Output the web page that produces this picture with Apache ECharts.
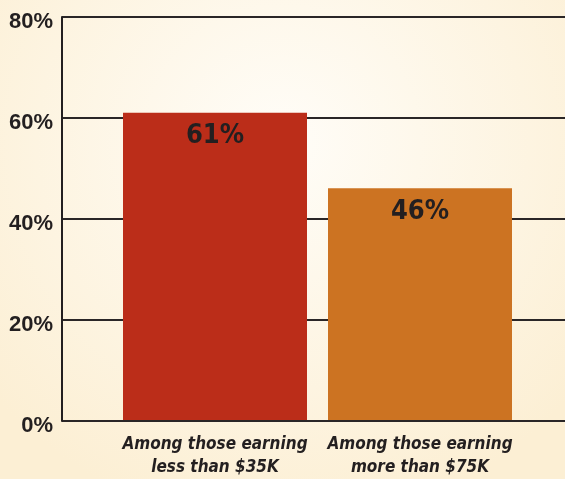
<!DOCTYPE html>
<html><head><meta charset="utf-8">
<script src="https://cdn.jsdelivr.net/npm/echarts@6/dist/echarts.min.js"></script>
<style>html,body{margin:0;padding:0;}#c{width:565px;height:479px;}</style>
</head><body><div id="c"></div>
<script>
const categories = ['Among those earning\nless than $35K', 'Among those earning\nmore than $75K'];
const values = [61, 46];
const barColors = ['#bb2d19', '#cc7322'];
const yTicks = [0, 20, 40, 60, 80];

const chart = echarts.init(document.getElementById('c'));
const cond = '"DejaVu Sans Condensed", "Liberation Sans Narrow", "Liberation Sans", Arial, sans-serif';
chart.setOption({
  backgroundColor: {
    type: 'radial', x: 0.5, y: 0.3, r: 0.8,
    colorStops: [{offset: 0, color: '#fffdf8'}, {offset: 1, color: '#fcefd4'}]
  },
  grid: [
    {left: 62, right: 0, top: 17, bottom: 58},
    {left: 112.5, right: 42.5, top: 17, bottom: 57}
  ],
  xAxis: [
    {gridIndex: 0, type: 'category', data: ['a'], show: true,
     axisLine: {show: false}, axisTick: {show: false}, axisLabel: {show: false}},
    {gridIndex: 1, type: 'category', data: categories,
     axisLine: {show: false}, axisTick: {show: false},
     axisLabel: {interval: 0, margin: 13, color: '#231f20', fontFamily: cond, fontWeight: 'bold',
       fontStyle: 'italic', fontSize: 17, lineHeight: 23}}
  ],
  yAxis: [
    {gridIndex: 0, type: 'value', min: 0, max: 80, interval: 20,
     axisLine: {show: true, lineStyle: {color: '#231f20', width: 2}},
     axisTick: {show: false},
     splitLine: {lineStyle: {color: '#2a2627', width: 2}},
     axisLabel: {formatter: v => yTicks.includes(v) ? v + '%' : '', margin: 9, color: '#231f20',
       verticalAlign: 'top', lineHeight: 10,
       fontFamily: '"Liberation Sans", Arial, sans-serif', fontWeight: 'bold', fontSize: 22}},
    {gridIndex: 1, type: 'value', min: 0, max: 80, interval: 20, show: false}
  ],
  series: [{
    type: 'bar', xAxisIndex: 1, yAxisIndex: 1, barWidth: 184,
    data: values.map((v, i) => ({value: v, itemStyle: {color: barColors[i]}})),
    label: {show: true, position: 'insideTop', distance: 10, formatter: p => p.value + '%',
      color: '#231f20', fontFamily: cond, fontWeight: 'bold', fontSize: 27}
  }]
});
</script></body></html>
